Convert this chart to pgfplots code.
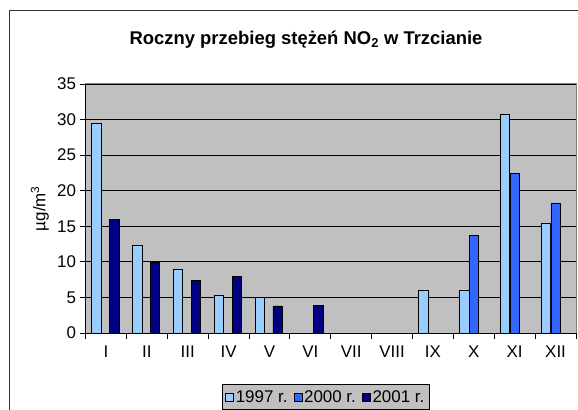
\documentclass[border=0pt]{standalone}
\usepackage{pgfplots}
\pgfplotsset{compat=1.18}
\usepackage{fontspec}
\setmainfont{Liberation Sans}
\definecolor{c97}{HTML}{99CCFF}
\definecolor{c00}{HTML}{3366FF}
\definecolor{c01}{HTML}{000080}
\definecolor{plotbg}{HTML}{C0C0C0}
\definecolor{frame}{HTML}{808080}
\begin{document}
\begin{tikzpicture}[x=1bp,y=1bp]
\useasboundingbox (0,0) rectangle (578,409);
\clip (0,0) rectangle (578,409);
\draw[line width=1bp, black!80] (9.5,-20) -- (9.5,398) -- (600,398);
\node[font=\bfseries\fontsize{18.5}{20}\selectfont] at (306,369) {Roczny przebieg stężeń NO\textsubscript{2} w Trzcianie};
\begin{axis}[
  at={(85.5bp,76bp)}, anchor=south west,
  scale only axis, width=490.5bp, height=249bp,
  xmin=0.5, xmax=12.5, ymin=0, ymax=35,
  axis background/.style={fill=plotbg, draw=frame, line width=1bp},
  axis x line*=bottom, axis y line*=left,
  axis line style={black, line width=0.8bp},
  xtick={1,...,12},
  xticklabels={I,II,III,IV,V,VI,VII,VIII,IX,X,XI,XII},
  major x tick style={draw=none},
  minor xtick={0.5,1.5,...,12.5},
  minor tick length=6bp,
  minor x tick style={black, line width=0.8bp},
  ytick={0,5,...,35},
  major tick length=6bp,
  y tick style={black, line width=0.8bp},
  tick align=outside,
  ymajorgrids, grid style={black, line width=0.8bp},
  tick label style={font=\fontsize{17}{19}\selectfont},
  /pgf/number format/assume math mode=true,
  xticklabel style={yshift=-3bp},
  ylabel={µg/m\textsuperscript{3}},
  ylabel style={font=\fontsize{17}{19}\selectfont, at={(axis description cs:-0.093,0.5)}, anchor=center},
  ybar=0pt, bar width=0.23,
  legend style={at={(0.278,-0.205)}, anchor=north west, fill=plotbg, draw=black, line width=0.6bp,
    font=\fontsize{17}{19}\selectfont, legend columns=3, inner ysep=4bp, inner xsep=3bp,
    /tikz/every even column/.append style={column sep=4bp}},
  legend image code/.code={\draw[#1, line width=0.6bp] (0bp,-4bp) rectangle (8bp,4bp);},
]
\addplot[fill=c97, draw=black, line width=0.6bp, bar shift=-0.235] coordinates {
(1,29.5) (2,12.3) (3,9.0) (4,5.3) (5,5.0) (9,6.0) (10,6.0) (11,30.8) (12,15.4)};
\addplot[fill=c00, draw=black, line width=0.6bp, bar shift=0] coordinates {
(10,13.7) (11,22.4) (12,18.3)};
\addplot[fill=c01, draw=black, line width=0.6bp, bar shift=0.2] coordinates {
(1,16.0) (2,10.0) (3,7.4) (4,8.0) (5,3.8) (6,3.9)};
\legend{1997 r.,2000 r.,2001 r.}
\end{axis}
\end{tikzpicture}
\end{document}
